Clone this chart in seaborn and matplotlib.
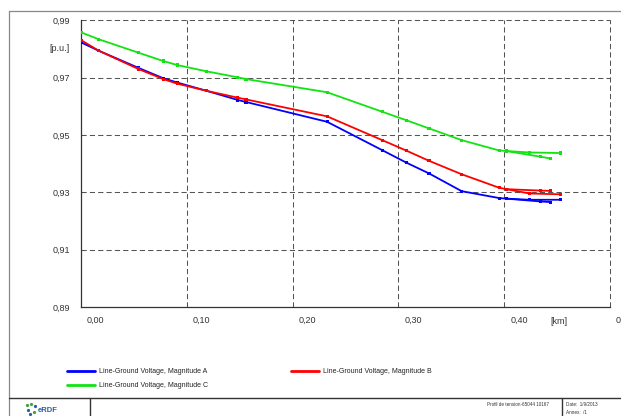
import numpy as np
import pandas as pd
import matplotlib
matplotlib.use("Agg")
import matplotlib.pyplot as plt
from matplotlib.lines import Line2D
import matplotlib.transforms as mtransforms
import seaborn as sns

# ---------------- data ----------------
trunk_x = [0.0, 0.0167, 0.0543, 0.0777, 0.0909, 0.1187, 0.1483, 0.156,
           0.2326, 0.2847, 0.3078, 0.3289, 0.3598, 0.3952, 0.402]
branch_a_x = [0.402, 0.4236, 0.4536]
branch_b_x = [0.402, 0.4347, 0.4438]

a_trunk = [0.9823, 0.9794, 0.9734, 0.9698, 0.9683, 0.9654, 0.9622, 0.9615,
           0.9546, 0.9447, 0.9403, 0.9366, 0.9304, 0.9280, 0.9278]
a_branch_a = [0.9278, 0.9274, 0.9274]
a_branch_b = [0.9278, 0.9268, 0.9266]

b_trunk = [0.9831, 0.9794, 0.9730, 0.9695, 0.9679, 0.9654, 0.9630, 0.9624,
           0.9565, 0.9482, 0.9445, 0.9410, 0.9363, 0.9316, 0.9311]
b_branch_a = [0.9311, 0.9296, 0.9293]
b_branch_b = [0.9311, 0.9306, 0.9305]

c_trunk = [0.9858, 0.9834, 0.9787, 0.9758, 0.9744, 0.9722, 0.9701, 0.9695,
           0.9649, 0.9581, 0.9551, 0.9523, 0.9482, 0.9446, 0.9444]
c_branch_a = [0.9444, 0.9439, 0.9437]
c_branch_b = [0.9444, 0.9424, 0.9418]

phase_labels = ["Line-Ground Voltage, Magnitude A",
                "Line-Ground Voltage, Magnitude B",
                "Line-Ground Voltage, Magnitude C"]
phase_colors = ["#0000ff", "#ff0000", "#11e411"]

x_ticks = [0.0, 0.1, 0.2, 0.3, 0.4, 0.5]
x_tick_labels = ["0,00", "0,10", "0,20", "0,30", "0,40", "0,50"]
y_ticks = [0.89, 0.91, 0.93, 0.95, 0.97, 0.99]
y_tick_labels = ["0,89", "0,91", "0,93", "0,95", "0,97", "0,99"]
x_unit = "[km]"
y_unit = "[p.u.]"

# ---------------- build long table ----------------
rows = []
series = {
    phase_labels[0]: (a_trunk, a_branch_a, a_branch_b),
    phase_labels[1]: (b_trunk, b_branch_a, b_branch_b),
    phase_labels[2]: (c_trunk, c_branch_a, c_branch_b),
}
for lab, (tr, ba, bb) in series.items():
    for seg, xs, ys in (("trunk", trunk_x, tr), ("a", branch_a_x, ba), ("b", branch_b_x, bb)):
        for i, (xv, yv) in enumerate(zip(xs, ys)):
            rows.append({"x": xv, "y": yv, "phase": lab, "seg": lab + seg, "order": i})
df = pd.DataFrame(rows)

# ---------------- figure ----------------
sns.set_style("white")
plt.rcParams["font.family"] = ["Liberation Sans", "DejaVu Sans"]

W, H = 621, 416
fig = plt.figure(figsize=(W / 100, H / 100), dpi=100)
fig.patch.set_facecolor("white")

def fx(px):
    return px / W

def fy(py):
    return 1 - py / H

ax = fig.add_axes([fx(81), fy(307), fx(610) - fx(81), fy(20.3) - fy(307)])
palette = dict(zip(phase_labels, phase_colors))

hue_order = phase_labels
sns.lineplot(data=df, x="x", y="y", hue="phase", units="seg", estimator=None,
             sort=False, palette=palette, hue_order=hue_order, linewidth=1.3,
             ax=ax, legend=True)
sns.scatterplot(data=df, x="x", y="y", hue="phase", palette=palette,
                hue_order=hue_order, marker="s", s=5, linewidth=0, ax=ax,
                legend=False, zorder=3)

ax.set_xlim(0, 0.5)
ax.set_ylim(0.89, 0.99)
ax.set_xlabel("")
ax.set_ylabel("")

# spines
for s in ("top", "right"):
    ax.spines[s].set_visible(False)
for s in ("left", "bottom"):
    ax.spines[s].set_color("#333333")
    ax.spines[s].set_linewidth(0.9)

# grid (dashed)
grid_kw = dict(color="#555555", linestyle=(0, (5, 3)), linewidth=0.75, zorder=0.5,
               clip_on=False)
for yv in y_ticks[1:]:
    ax.axhline(yv, **grid_kw)
for xv in x_ticks[1:]:
    ax.axvline(xv, **grid_kw)

# ticks
ax.set_xticks(x_ticks)
ax.set_xticklabels(x_tick_labels)
ax.set_yticks(y_ticks)
ax.set_yticklabels(y_tick_labels)
ax.set_xticks([0.05, 0.15, 0.25, 0.35, 0.45], minor=True)
ax.set_yticks([0.90, 0.92, 0.94, 0.96, 0.98], minor=True)
ax.tick_params(axis="both", which="major", length=0, labelsize=6.5,
               labelcolor="#333333")
ax.tick_params(axis="both", which="minor", direction="in", length=2.5,
               width=0.8, color="#333333")
ax.tick_params(axis="y", which="major", pad=7.5)
ax.tick_params(axis="x", which="major", pad=6)
offset = mtransforms.ScaledTranslation(6 / 100, 0, fig.dpi_scale_trans)
for lbl in ax.get_xticklabels():
    lbl.set_horizontalalignment("left")
    lbl.set_transform(lbl.get_transform() + offset)

# unit labels
ax.text(-11 / (610 - 81), 0.98, y_unit, transform=ax.get_yaxis_transform(),
        ha="right", va="center", fontsize=6.5, color="#333333")
ax.text(0.4515, -10 / (307 - 20.3), x_unit, transform=ax.get_xaxis_transform(),
        ha="center", va="top", fontsize=6.5, color="#333333")

# legend
handles, labels = ax.get_legend_handles_labels()
ax.get_legend().remove()
order = [phase_labels[0], phase_labels[2], phase_labels[1]]
leg_handles = [Line2D([0], [0], color=palette[l], linewidth=2.0) for l in order]
leg = fig.legend(leg_handles, order, loc="upper left", ncol=2,
                 bbox_to_anchor=(fx(67), fy(368)), frameon=False,
                 fontsize=5, handlelength=4.0, handletextpad=0.6,
                 columnspacing=12.0, labelspacing=1.05, borderaxespad=0,
                 borderpad=0)
for t in leg.get_texts():
    t.set_color("#222222")

# page frame
frame_kw = dict(transform=fig.transFigure, color="#888888", linewidth=0.9)
fig.add_artist(Line2D([fx(9), fx(621)], [fy(11), fy(11)], **frame_kw))
fig.add_artist(Line2D([fx(9), fx(9)], [fy(11), fy(416)], **frame_kw))
foot_kw = dict(transform=fig.transFigure, color="#333333", linewidth=1.0)
fig.add_artist(Line2D([fx(9), fx(621)], [fy(398), fy(398)], **foot_kw))
fig.add_artist(Line2D([fx(90), fx(90)], [fy(398), fy(416)], **foot_kw))
fig.add_artist(Line2D([fx(562), fx(562)], [fy(398), fy(416)], **foot_kw))

# footer texts
fig.text(fx(38), fy(410), "eRDF", fontsize=5.5, fontweight="bold",
         color="#2b5f9e", ha="left", va="center")
for (px, py, c) in [(27, 405, "#3fa535"), (31, 404, "#3fa535"), (35, 406, "#2b5f9e"),
                    (28, 410, "#2b5f9e"), (34, 412, "#3fa535"), (30, 414, "#2b5f9e")]:
    fig.add_artist(Line2D([fx(px)], [fy(py)], marker="o", markersize=1.3,
                          color=c, transform=fig.transFigure, linewidth=0))
fig.text(fx(549), fy(405), "Profil de tension-65044 10167", fontsize=3.3,
         color="#333333", ha="right", va="center")
fig.text(fx(566), fy(404), "Date:  1/9/2013", fontsize=3.3,
         color="#333333", ha="left", va="center")
fig.text(fx(566), fy(413), "Annex:  /1", fontsize=3.3,
         color="#333333", ha="left", va="center")

fig.savefig("out.png", dpi=100, facecolor="white")
